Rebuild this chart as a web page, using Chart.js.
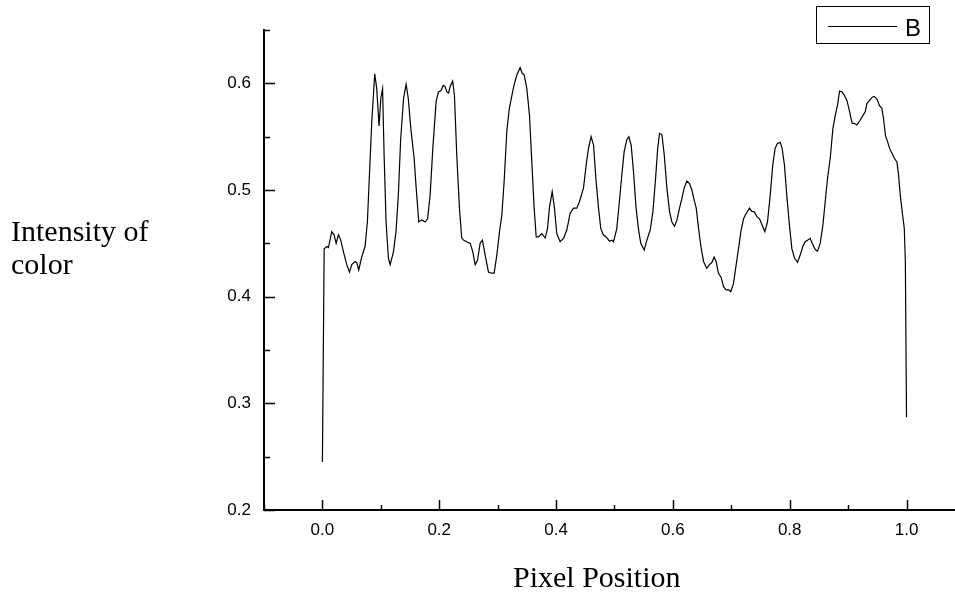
<!DOCTYPE html>
<html>
<head>
<meta charset="utf-8">
<script src="https://cdn.jsdelivr.net/npm/chart.js@4/dist/chart.umd.min.js"></script>
<style>
    body { margin: 0; background: #fff; }
    #wrap { width: 955px; height: 596px; }
</style>
</head>
<body>
<div id="wrap"><canvas id="LineChart" width="955" height="596"></canvas></div>
<script>
// pixel position of the profile
var xs = [0.000, 0.003, 0.0075, 0.0103, 0.016, 0.020, 0.0235, 0.0275, 0.0314, 0.036, 0.0417, 0.0463, 0.0503, 0.056, 0.0588, 0.0622, 0.0674, 0.073, 0.077, 0.0805, 0.0845, 0.0896, 0.093, 0.097, 0.100, 0.103, 0.1056, 0.109, 0.113, 0.116, 0.1216, 0.126, 0.130, 0.134, 0.139, 0.1433, 0.147, 0.1513, 0.157, 0.1605, 0.165, 0.170, 0.176, 0.180, 0.1844, 0.189, 0.1947, 0.1987, 0.2027, 0.207, 0.210, 0.213, 0.216, 0.2186, 0.223, 0.226, 0.230, 0.2346, 0.2385,
    0.2415, 0.247, 0.253, 0.2575, 0.2615, 0.2655, 0.270, 0.274, 0.2786, 0.2843, 0.290, 0.294, 0.2986, 0.3032, 0.3072, 0.3111, 0.3157, 0.320, 0.324, 0.328, 0.3328, 0.3385, 0.342, 0.3454, 0.350, 0.3545, 0.3585, 0.3625, 0.366, 0.370, 0.3757, 0.3814, 0.3854, 0.3888, 0.3934, 0.3973, 0.4013, 0.407, 0.4127, 0.4184, 0.424, 0.4298, 0.4355, 0.440, 0.447, 0.4515, 0.4555, 0.460, 0.4642, 0.4686, 0.4727, 0.4766, 0.4812, 0.4858, 0.4915, 0.4955,
    0.4983, 0.504, 0.5084, 0.5126, 0.5166, 0.521, 0.5246, 0.5286, 0.5326, 0.537, 0.541, 0.545, 0.551, 0.5555, 0.5612, 0.5658, 0.570, 0.574, 0.5772, 0.5812, 0.5852, 0.5897, 0.5943, 0.5983, 0.6028, 0.6068, 0.6114, 0.6154, 0.6194, 0.624, 0.6285, 0.6325, 0.6365, 0.640, 0.644, 0.648, 0.6525, 0.658, 0.6626, 0.6667, 0.6707, 0.674, 0.678, 0.6827, 0.6867, 0.6912, 0.6958, 0.6992, 0.7038, 0.7084, 0.7124, 0.7164, 0.721, 0.7255, 0.7312, 0.7352, 0.7392, 0.7438, 0.7483,
    0.754, 0.7575, 0.762, 0.7666, 0.771, 0.775, 0.779, 0.7837, 0.787, 0.791, 0.795, 0.7996, 0.8037, 0.8083, 0.8134, 0.818, 0.8225, 0.8265, 0.8305, 0.835, 0.8385, 0.8436, 0.8476, 0.8522, 0.8568, 0.8608, 0.8648, 0.8694, 0.874, 0.878, 0.882, 0.8854, 0.8894, 0.8934, 0.898, 0.9025, 0.907, 0.9105, 0.915, 0.9196, 0.9253, 0.9293, 0.9322, 0.9367, 0.9413, 0.9447, 0.9493, 0.9538, 0.9578, 0.9607, 0.964, 0.9675, 0.971, 0.975, 0.979, 0.9836, 0.9864, 0.9893, 0.9933, 0.9962, 0.998, 1.000];
// intensity of color (B)
var ys = [0.245, 0.445, 0.447, 0.446, 0.461, 0.458, 0.450, 0.458, 0.453, 0.442, 0.430, 0.423, 0.430, 0.433, 0.432, 0.425, 0.4375, 0.447, 0.470, 0.514, 0.564, 0.609, 0.595, 0.560, 0.586, 0.595, 0.533, 0.470, 0.436, 0.430, 0.442, 0.461, 0.495, 0.548, 0.586, 0.599, 0.586, 0.558, 0.530, 0.502, 0.470, 0.472, 0.470, 0.473, 0.495, 0.539, 0.583, 0.592, 0.593, 0.598, 0.597, 0.592, 0.591, 0.597, 0.602, 0.589, 0.533, 0.483, 0.455,
    0.453, 0.4515, 0.450, 0.442, 0.430, 0.434, 0.450, 0.453, 0.439, 0.423, 0.422, 0.422, 0.439, 0.461, 0.4766, 0.508, 0.555, 0.5766, 0.5875, 0.598, 0.6078, 0.6147, 0.6094, 0.608, 0.595, 0.570, 0.5265, 0.483, 0.456, 0.456, 0.459, 0.455, 0.4638, 0.484, 0.4984, 0.483, 0.459, 0.4515, 0.4547, 0.4625, 0.478, 0.483, 0.483, 0.489, 0.502, 0.5234, 0.539, 0.550, 0.542, 0.508, 0.483, 0.4638, 0.4578, 0.456, 0.452, 0.453,
    0.4515, 0.4638, 0.489, 0.514, 0.536, 0.547, 0.550, 0.542, 0.517, 0.483, 0.4638, 0.450, 0.4437, 0.453, 0.4625, 0.4797, 0.508, 0.539, 0.553, 0.552, 0.533, 0.502, 0.4797, 0.470, 0.466, 0.4715, 0.483, 0.492, 0.502, 0.5084, 0.506, 0.500, 0.4906, 0.483, 0.4638, 0.447, 0.433, 0.4266, 0.430, 0.432, 0.4372, 0.433, 0.422, 0.418, 0.4094, 0.4063, 0.4063, 0.4047, 0.4125, 0.430, 0.445, 0.461, 0.473, 0.478, 0.483, 0.480, 0.4797, 0.475, 0.473,
    0.4656, 0.461, 0.470, 0.495, 0.5234, 0.539, 0.5437, 0.5447, 0.539, 0.5234, 0.495, 0.4668, 0.445, 0.436, 0.4322, 0.439, 0.447, 0.4515, 0.453, 0.4547, 0.450, 0.4444, 0.4425, 0.450, 0.4668, 0.489, 0.511, 0.530, 0.5578, 0.570, 0.580, 0.5928, 0.592, 0.589, 0.584, 0.5734, 0.5625, 0.5625, 0.561, 0.5647, 0.5697, 0.5734, 0.581, 0.584, 0.587, 0.5878, 0.5853, 0.579, 0.5766, 0.5666, 0.551, 0.5453, 0.539, 0.5344, 0.530, 0.526, 0.514, 0.495, 0.4766, 0.4638, 0.433, 0.287];

var xMajorTicks = [0.0, 0.2, 0.4, 0.6, 0.8, 1.0];
var xMinorTicks = [-0.1, 0.1, 0.3, 0.5, 0.7, 0.9];
var yMajorTicks = [0.2, 0.3, 0.4, 0.5, 0.6];
var yMinorTicks = [0.25, 0.35, 0.45, 0.55, 0.65];

var seriesLabel = "B";
var xTitle = "Pixel Position";
var yTitleLines = ["Intensity of", "color"];

function isMajor(list, v) {
    for (var i = 0; i < list.length; i++) {
        if (Math.abs(list[i] - v) < 1e-6) return true;
    }
    return false;
}

function buildTicks(major, minor) {
    return major.concat(minor).sort(function(a, b) { return a - b; }).map(function(v) {
        return { value: v };
    });
}

// inward ticks, legend box and the free-standing titles
var decor = {
    id: "decor",
    afterDraw: function(chart) {
        var ctx = chart.ctx;
        var xs_ = chart.scales.x, ys_ = chart.scales.y;
        var area = chart.chartArea;
        ctx.save();
        ctx.strokeStyle = "#000";
        ctx.lineWidth = 1.5;
        ctx.beginPath();
        xMajorTicks.concat(xMinorTicks).forEach(function(v) {
            var px = Math.round(xs_.getPixelForValue(v)) + 0.5;
            var len = isMajor(xMajorTicks, v) ? 10 : 5;
            ctx.moveTo(px, area.bottom);
            ctx.lineTo(px, area.bottom - len);
        });
        yMajorTicks.concat(yMinorTicks).forEach(function(v) {
            var py = Math.round(ys_.getPixelForValue(v)) + 0.5;
            var len = isMajor(yMajorTicks, v) ? 11 : 6;
            ctx.moveTo(area.left, py);
            ctx.lineTo(area.left + len, py);
        });
        ctx.stroke();

        // legend
        ctx.lineWidth = 1;
        ctx.strokeRect(816.5, 6.5, 113, 37);
        ctx.beginPath();
        ctx.moveTo(828, 26.5);
        ctx.lineTo(897, 26.5);
        ctx.stroke();
        ctx.fillStyle = "#000";
        ctx.font = "24px 'Liberation Sans', Arial, sans-serif";
        ctx.textBaseline = "alphabetic";
        ctx.textAlign = "left";
        ctx.fillText(chart.data.datasets[0].label, 905, 36);

        // titles
        ctx.font = "30px 'Liberation Serif', 'Times New Roman', serif";
        ctx.fillText(yTitleLines[0], 11, 241);
        ctx.fillText(yTitleLines[1], 11, 274);
        ctx.fillText(xTitle, 513, 587);
        ctx.restore();
    }
};

var points = xs.map(function(x, i) { return { x: x, y: ys[i] }; });

var c = document.getElementById("LineChart");
var chart = new Chart(c, {
    type: "line",
    data: {
        datasets: [{
            label: seriesLabel,
            data: points,
            borderColor: "#000",
            borderWidth: 1.2,
            pointRadius: 0,
            tension: 0,
            fill: false
        }]
    },
    options: {
        responsive: false,
        animation: false,
        layout: { padding: { top: 30, right: 0, left: 0, bottom: 0 } },
        plugins: {
            legend: { display: false },
            tooltip: { enabled: false }
        },
        scales: {
            x: {
                type: "linear",
                min: -0.1,
                max: 1.083,
                grid: { display: false, drawTicks: false },
                border: { display: true, color: "#000", width: 2 },
                afterBuildTicks: function(scale) { scale.ticks = buildTicks(xMajorTicks, xMinorTicks); },
                afterFit: function(scale) { scale.height = 86; },
                ticks: {
                    autoSkip: false,
                    maxRotation: 0,
                    padding: 10,
                    color: "#000",
                    font: { family: "'Liberation Sans', Arial, sans-serif", size: 17 },
                    callback: function(v) { return isMajor(xMajorTicks, v) ? v.toFixed(1) : ""; }
                }
            },
            y: {
                type: "linear",
                min: 0.2,
                max: 0.65,
                grid: { display: false, drawTicks: false },
                border: { display: true, color: "#000", width: 2 },
                afterBuildTicks: function(scale) { scale.ticks = buildTicks(yMajorTicks, yMinorTicks); },
                afterFit: function(scale) { scale.width = 264; },
                ticks: {
                    autoSkip: false,
                    padding: 13,
                    color: "#000",
                    font: { family: "'Liberation Sans', Arial, sans-serif", size: 17 },
                    callback: function(v) { return isMajor(yMajorTicks, v) ? v.toFixed(1) : ""; }
                }
            }
        }
    },
    plugins: [decor]
});
</script>
</body>
</html>
